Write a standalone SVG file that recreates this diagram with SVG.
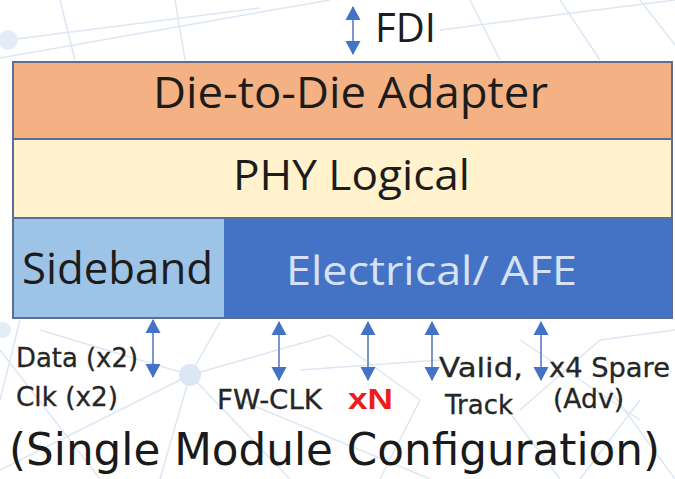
<svg xmlns="http://www.w3.org/2000/svg" width="675" height="479" viewBox="0 0 675 479">
  <style>
    .bg { stroke: #dde7f3; stroke-width: 1.5; fill: none; }
    .band { stroke: none; }
    .div { stroke: #5b6f96; stroke-width: 2; fill: none; }
    .boxtxt { font-family: "Open Sans", "Liberation Sans", sans-serif; fill: #1c1c1c; }
    .lbl { font-family: "DejaVu Sans", Verdana, sans-serif; font-size: 26px; fill: #262626; stroke: #262626; stroke-width: 0.3; }
    .arr { stroke: #7b96cf; stroke-width: 2; fill: none; marker-start: url(#ah); marker-end: url(#ah); }
  </style>
  <defs>
    <marker id="ah" markerUnits="userSpaceOnUse" markerWidth="16" markerHeight="16" refX="13" refY="8" orient="auto-start-reverse" viewBox="0 0 16 16">
      <path d="M0,0.5 L14,8 L0,15.5 Z" fill="#4472c4"/>
    </marker>
  </defs>
  <rect x="0" y="0" width="675" height="479" fill="#ffffff"/>
  <g id="background">
    <line class="bg" x1="0" y1="58" x2="330" y2="0"/>
    <line class="bg" x1="8" y1="40" x2="260" y2="8"/>
    <line class="bg" x1="60" y1="0" x2="75" y2="60"/>
    <line class="bg" x1="175" y1="0" x2="185" y2="60"/>
    <line class="bg" x1="470" y1="0" x2="500" y2="60"/>
    <line class="bg" x1="560" y1="0" x2="600" y2="60"/>
    <line class="bg" x1="640" y1="0" x2="675" y2="45"/>
    <line class="bg" x1="440" y1="30" x2="675" y2="0"/>
    <circle cx="8" cy="40" r="10" fill="#e3ecf7"/>
    <circle cx="190" cy="375" r="11" fill="#dbe7f5"/>
    <circle cx="3" cy="330" r="8" fill="#e3ecf7"/>
    <line class="bg" x1="190" y1="375" x2="0" y2="470"/>
    <line class="bg" x1="190" y1="375" x2="40" y2="330"/>
    <line class="bg" x1="190" y1="375" x2="330" y2="335"/>
    <line class="bg" x1="190" y1="375" x2="160" y2="479"/>
    <line class="bg" x1="190" y1="375" x2="290" y2="479"/>
    <line class="bg" x1="190" y1="375" x2="220" y2="322"/>
    <line class="bg" x1="0" y1="350" x2="100" y2="479"/>
    <line class="bg" x1="20" y1="320" x2="0" y2="400"/>
    <line class="bg" x1="240" y1="400" x2="430" y2="479"/>
    <line class="bg" x1="330" y1="335" x2="420" y2="400"/>
    <line class="bg" x1="300" y1="370" x2="440" y2="360"/>
    <line class="bg" x1="420" y1="400" x2="380" y2="479"/>
    <line class="bg" x1="500" y1="400" x2="560" y2="479"/>
    <line class="bg" x1="520" y1="410" x2="600" y2="340"/>
    <line class="bg" x1="600" y1="340" x2="675" y2="330"/>
    <line class="bg" x1="610" y1="390" x2="675" y2="479"/>
    <line class="bg" x1="640" y1="400" x2="580" y2="479"/>
    <line class="bg" x1="520" y1="340" x2="640" y2="420"/>
  </g>
  <g id="adapter">
    <rect class="band" x="13" y="62" width="659" height="77" fill="#f4b183"/>
    <text class="boxtxt" x="153" y="108" font-size="43" textLength="395" lengthAdjust="spacingAndGlyphs">Die-to-Die Adapter</text>
  </g>
  <g id="phy-logical">
    <rect class="band" x="13" y="139" width="659" height="79" fill="#fff2cc"/>
    <text class="boxtxt" x="233" y="190" font-size="42" textLength="237" lengthAdjust="spacingAndGlyphs">PHY Logical</text>
  </g>
  <g id="sideband">
    <rect class="band" x="13" y="218" width="211" height="100" fill="#9dc3e6"/>
    <text class="boxtxt" x="22" y="284" font-size="44" textLength="191" lengthAdjust="spacingAndGlyphs">Sideband</text>
  </g>
  <g id="electrical">
    <rect class="band" x="224" y="218" width="448" height="100" fill="#4472c4"/>
    <text class="boxtxt" x="286" y="285" font-size="41" style="fill:#d6e2f4" textLength="291" lengthAdjust="spacingAndGlyphs">Electrical/ AFE</text>
  </g>
  <g id="frame">
    <rect x="13" y="62" width="659" height="256" class="div"/>
    <line class="div" x1="13" y1="139" x2="672" y2="139"/>
    <line class="div" x1="13" y1="218" x2="672" y2="218"/>
  </g>
  <g id="connectors">
    <line class="arr" x1="353" y1="7" x2="353" y2="54"/>
    <line class="arr" x1="153" y1="320" x2="153" y2="377"/>
    <line class="arr" x1="279" y1="322" x2="279" y2="380"/>
    <line class="arr" x1="368" y1="322" x2="368" y2="380"/>
    <line class="arr" x1="432" y1="322" x2="432" y2="380"/>
    <line class="arr" x1="541" y1="322" x2="541" y2="380"/>
  </g>
  <g id="labels">
    <text class="boxtxt" x="375" y="42" font-size="40">FDI</text>
    <text class="lbl" x="16" y="367" textLength="122" lengthAdjust="spacingAndGlyphs">Data (x2)</text>
    <text class="lbl" x="16" y="406" textLength="102" lengthAdjust="spacingAndGlyphs">Clk (x2)</text>
    <text class="lbl" x="217" y="409" textLength="105" lengthAdjust="spacingAndGlyphs">FW-CLK</text>
    <text x="348" y="409" font-family="'Liberation Sans', Arial, sans-serif" font-weight="bold" font-size="29" fill="#ee1c1c" textLength="45" lengthAdjust="spacingAndGlyphs">xN</text>
    <text class="lbl" x="439" y="377" textLength="84" lengthAdjust="spacingAndGlyphs">Valid,</text>
    <text class="lbl" x="445" y="414" textLength="68" lengthAdjust="spacingAndGlyphs">Track</text>
    <text class="lbl" x="549" y="377" textLength="121" lengthAdjust="spacingAndGlyphs">x4 Spare</text>
    <text class="lbl" x="553" y="408" textLength="71" lengthAdjust="spacingAndGlyphs">(Adv)</text>
  </g>
  <g id="title">
    <text x="9" y="465" font-family="'DejaVu Sans', Verdana, sans-serif" font-size="44" fill="#1a1a1a" textLength="651" lengthAdjust="spacingAndGlyphs">(Single Module Configuration)</text>
  </g>
</svg>
